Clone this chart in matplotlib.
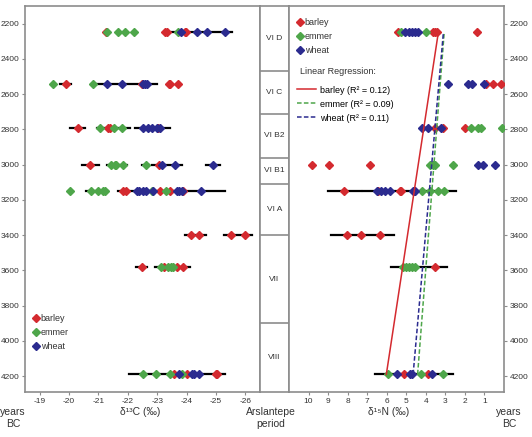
import matplotlib.pyplot as plt
from matplotlib.lines import Line2D

plt.rcParams['font.family'] = ['Liberation Sans', 'DejaVu Sans']

RED = '#d42a2f'
GREEN = '#4ea64a'
BLUE = '#2b2b8f'
GRAY = '#8c8c8c'

# d13C values per period row (years BC -> values)
c13_barley = {2250: [-21.27, -23.28, -23.32, -23.94, -23.98],
              2540: [-19.89, -22.47, -23.39, -23.45, -23.71],
              2790: [-20.30, -21.34, -21.40, -23.04],
              3000: [-20.72, -23.05],
              3150: [-21.85, -21.94, -23.09, -23.43, -23.88],
              3400: [-24.14, -24.41, -25.52, -26.0],
              3580: [-22.49, -23.24, -23.69, -23.89],
              4190: [-23.58, -24.0, -24.99, -25.05]}
c13_emmer = {2250: [-21.28, -21.66, -21.92, -22.21, -23.70],
             2540: [-19.44, -20.81],
             2790: [-21.05, -21.53, -21.81],
             3000: [-21.43, -21.57, -21.60, -21.84, -22.61],
             3150: [-20.02, -20.74, -20.97, -21.15, -21.24, -22.84, -23.29],
             3580: [-23.14, -23.37, -23.46, -23.54],
             4190: [-22.53, -22.95, -23.45, -23.86]}
c13_wheat = {2250: [-23.80, -24.37, -24.70, -25.30],
             2540: [-21.28, -21.81, -22.53, -22.59, -22.64],
             2790: [-22.50, -22.69, -22.82, -22.98, -23.09],
             3000: [-23.17, -23.59, -24.90],
             3150: [-22.30, -22.39, -22.50, -22.62, -22.86, -23.66, -23.75, -23.83, -24.48],
             4190: [-23.74, -24.17, -24.25, -24.41]}
c13_bars = [(2250, -23.52, -25.54),
            (2540, -19.70, -20.07), (2540, -20.89, -23.01),
            (2790, -20.04, -20.55), (2790, -20.95, -22.07), (2790, -22.24, -23.43),
            (3000, -20.44, -21.02), (3000, -21.28, -21.96), (3000, -22.47, -22.73),
            (3000, -22.84, -23.85), (3000, -24.67, -25.15),
            (3150, -20.58, -21.34), (3150, -21.68, -25.32),
            (3400, -23.94, -24.65), (3400, -25.29, -26.23),
            (3580, -22.28, -22.67), (3580, -22.92, -24.13),
            (4190, -22.04, -25.30)]

# d15N values
n15_barley = {2250: [5.42, 3.62, 3.53, 3.45, 1.39],
              2540: [0.93, 0.54, 0.16],
              2790: [3.53, 3.11, 1.99],
              3000: [9.83, 8.94, 6.86],
              3150: [8.20, 6.45, 5.33, 5.25, 4.60],
              3400: [8.03, 7.31, 6.36],
              3580: [3.53],
              4190: [5.11, 3.91]}
n15_emmer = {2250: [5.28, 4.0],
             2790: [1.70, 1.34, 1.17, 0.10],
             3000: [3.79, 3.65, 3.53, 2.59],
             3150: [4.17, 3.79, 3.36, 3.06],
             3580: [5.16, 4.99, 4.87, 4.73, 4.53],
             4190: [5.94, 4.27, 3.14]}
n15_wheat = {2250: [5.04, 4.87, 4.70, 4.53, 4.39],
             2540: [2.88, 1.85, 1.62, 1.0],
             2790: [4.22, 3.91, 3.24],
             3000: [1.31, 1.05, 0.48],
             3150: [6.48, 6.28, 6.07, 5.85, 4.65, 4.53],
             4190: [5.47, 4.82, 4.73, 3.70]}
n15_bars = [(3150, 8.99, 7.34), (3150, 7.22, 2.47),
            (3400, 8.85, 5.63),
            (3580, 5.80, 2.93),
            (4190, 6.62, 2.59)]

# regression fits (values at the two ends)
reg_years = [4190, 2250]
reg_barley = [6.02, 3.36]
reg_emmer = [4.42, 3.06]
reg_wheat = [4.65, 3.10]
r2 = {'barley': 0.12, 'emmer': 0.09, 'wheat': 0.11}

period_edges = [2100, 2470, 2710, 2960, 3110, 3400, 3900, 4290]
period_names = ['VI D', 'VI C', 'VI B2', 'VI B1', 'VI A', 'VII', 'VIII']

year_ticks = [2200, 2400, 2600, 2800, 3000, 3200, 3400, 3600, 3800, 4000, 4200]
c13_ticks = [-19, -20, -21, -22, -23, -24, -25, -26]
n15_ticks = [10, 9, 8, 7, 6, 5, 4, 3, 2, 1]

W, H = 532, 437
fig = plt.figure(figsize=(W / 100, H / 100), dpi=100)


def box(x0, x1, top=6, bottom=392):
    return [x0 / W, (H - bottom) / H, (x1 - x0) / W, (bottom - top) / H]


ax1 = fig.add_axes(box(25, 260))
axm = fig.add_axes(box(260, 289))
ax2 = fig.add_axes(box(289, 504))

for ax in (ax1, axm, ax2):
    ax.set_ylim(4290, 2100)
    for s in ax.spines.values():
        s.set_color(GRAY)
        s.set_linewidth(1.2)
    ax.tick_params(colors=GRAY, labelcolor='#333333', labelsize=6, length=2.5, width=0.8, pad=1.5)

series = [('barley', RED), ('emmer', GREEN), ('wheat', BLUE)]
MS = 3.9


def draw(ax, bars, data_list):
    for y, lo, hi in bars:
        ax.plot([lo, hi], [y, y], color='black', lw=1.6, zorder=2)
    for data, (name, col) in zip(data_list, series):
        for y, vals in data.items():
            ax.plot(vals, [y] * len(vals), 'D', color=col, ms=MS, mec=col, zorder=3)


draw(ax1, c13_bars, [c13_barley, c13_emmer, c13_wheat])
ax1.set_xlim(-18.5, -26.5)
ax1.set_xticks(c13_ticks)
ax1.set_xticklabels([str(t) for t in c13_ticks])
ax1.set_yticks(year_ticks)

draw(ax2, n15_bars, [n15_barley, n15_emmer, n15_wheat])
ax2.plot(reg_barley, reg_years, color=RED, lw=1.1, zorder=4)
ax2.plot(reg_emmer, reg_years, color=GREEN, lw=1.1, ls=(0, (3, 1.5)), zorder=4)
ax2.plot(reg_wheat, reg_years, color=BLUE, lw=1.1, ls=(0, (3, 1.5)), zorder=4)
ax2.set_xlim(11, 0)
ax2.set_xticks(n15_ticks)
ax2.set_yticks(year_ticks)
ax2.yaxis.tick_right()

axm.set_xlim(0, 1)
axm.set_xticks([])
axm.set_yticks([])
for e in period_edges[1:-1]:
    axm.axhline(e, color=GRAY, lw=1.2)
for i, name in enumerate(period_names):
    axm.text(0.5, (period_edges[i] + period_edges[i + 1]) / 2, name,
             ha='center', va='center', fontsize=6, color='#333333')

mk = [Line2D([], [], marker='D', color=c, ls='none', ms=MS) for _, c in series]
leg1 = ax1.legend(mk, [n for n, _ in series], loc='lower left', bbox_to_anchor=(0.01, 0.09),
                  frameon=False, fontsize=6.5, handlelength=0.6, handletextpad=0.2,
                  labelspacing=0.55, borderpad=0.2)

leg2 = ax2.legend(mk, [n for n, _ in series], loc='upper left', bbox_to_anchor=(0.01, 0.985),
                  frameon=False, fontsize=6.5, handlelength=0.6, handletextpad=0.2,
                  labelspacing=0.55, borderpad=0.2)
ax2.add_artist(leg2)
ax2.text(300 / W, 1 - 72 / H, 'Linear Regression:', transform=fig.transFigure,
         fontsize=6.5, color='#333333', va='center')
lines = [Line2D([], [], color=RED, lw=1.1),
         Line2D([], [], color=GREEN, lw=1.1, ls=(0, (3, 1.5))),
         Line2D([], [], color=BLUE, lw=1.1, ls=(0, (3, 1.5)))]
ax2.legend(lines, [f'{n} (R² = {r2[n]:.2f})' for n, _ in series], loc='upper left',
           bbox_to_anchor=(0.01, 0.81), frameon=False, fontsize=6.5, handlelength=2.0,
           handletextpad=0.5, labelspacing=0.55, borderpad=0.2)

for t in leg1.get_texts() + leg2.get_texts():
    t.set_color('#333333')

lab = dict(fontsize=7.5, color='#333333', ha='center', va='top', linespacing=1.3)
fig.text(13 / W, 1 - 407 / H, 'years\nBC', **lab)
fig.text(140 / W, 1 - 407 / H, 'δ¹³C (‰)', **lab)
fig.text(271 / W, 1 - 407 / H, 'Arslantepe\nperiod', **lab)
fig.text(389 / W, 1 - 407 / H, 'δ¹⁵N (‰)', **lab)
fig.text(509 / W, 1 - 407 / H, 'years\nBC', **lab)

fig.savefig('out.png', dpi=100)
